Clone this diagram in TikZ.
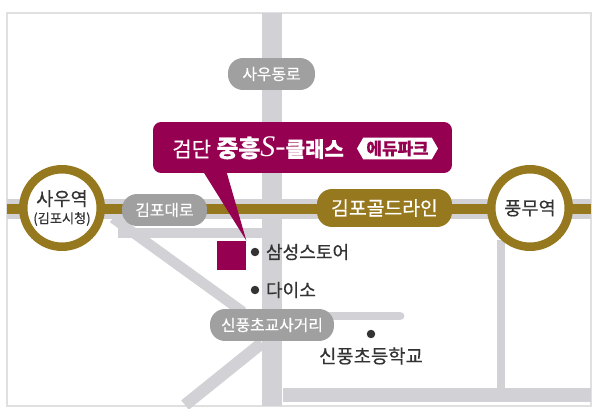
\documentclass[tikz,border=0pt]{standalone}
\usepackage{fontspec}
\setmainfont[FakeBold=0.5]{Noto Sans CJK KR}
\usetikzlibrary{shapes.symbols, positioning, calc}
\definecolor{plum}{HTML}{960051}
\definecolor{gold}{HTML}{96781E}
\definecolor{road}{HTML}{D2D2D6}
\definecolor{badge}{HTML}{A0A0A0}
\definecolor{ink}{HTML}{333333}
\tikzset{
  roadline/.style={road, line width=0.4cm},
  thinroad/.style={road, line width=0.21cm},
  roadbadge/.style={fill=badge, text=white, rounded corners=0.3cm, minimum height=0.64cm, inner sep=0pt, font=\fontsize{9pt}{10pt}\selectfont},
  station/.style={circle, draw=gold, fill=white, line width=0.17cm, minimum size=1.55cm, inner sep=0pt, text=ink, align=center, font=\fontsize{10.6pt}{12pt}\selectfont},
  spot/.style={circle, fill=ink, minimum size=0.17cm, inner sep=0pt},
  place/.style={text=ink, inner sep=0pt, font=\fontsize{10.3pt}{12pt}\selectfont}
}
\begin{document}
\begin{tikzpicture}[x=0.02cm, y=-0.02cm]
\useasboundingbox (0,0) rectangle (600,409);
% Frame
\draw[black!12, line width=0.03cm] (7,13) rectangle (591,406);

% Road ends
\coordinate (westend) at (7,209);
\coordinate (eastend) at (591,209);
\coordinate (northend) at (272,13);
\coordinate (southend) at (272,406);

% Roads
\draw[roadline] (westend) -- (eastend);
\draw[roadline] (northend) -- (southend);
\draw[thinroad] (118,233) -- (272,233);
\draw[thinroad] (113,218) -- (243,312);
\draw[road, line width=0.24cm] (262,343) -- (185,405);
\draw[road, line width=0.28cm] (283,395) -- (591,395);
\draw[road, line width=0.18cm] (501,240) -- (501,395);
\draw[road, line width=0.18cm, line cap=round] (320,316) -- (400,316);

% Gold line
\draw[gold, line width=0.21cm] (westend) -- (eastend);

% Stations
\node[station] (sawoo) at (62,208) {사우역\\[-2pt]{\fontsize{7.5pt}{8pt}\selectfont (김포시청)}};
\node[station] (pungmu) at (530,208) {풍무역};

% Road names
\node[roadbadge, minimum width=1.74cm] (sawoodong) at (271.5,74) {사우동로};
\node[roadbadge, minimum width=1.7cm] (gimpodae) at (164.5,210) {김포대로};
\node[roadbadge, minimum width=2.48cm] (sinpung) at (272,325) {신풍초교사거리};
\node[roadbadge, fill=gold, minimum width=2.7cm, minimum height=0.76cm, font=\fontsize{11pt}{12pt}\selectfont] (goldline) at (384.5,208) {김포골드라인};

% Site and callout
\node[fill=plum, minimum width=0.58cm, minimum height=0.58cm, inner sep=0pt] (site) at (231.5,255.5) {};
\node[fill=plum, rounded corners=0.16cm, minimum width=5.98cm, minimum height=1.02cm, inner sep=0pt] (callout) at (302.5,147.5) {};
\fill[plum] ($(callout.south west)+(51,-1)$) -- ($(callout.south west)+(74,-1)$) -- (site.north east) -- cycle;
\node[text=white, inner sep=0pt, anchor=west, font=\fontsize{12pt}{13pt}\selectfont] (title) at (172,148) {검단\hspace{3pt}{\fontsize{13.6pt}{13pt}\selectfont\textbf{중흥}}{\fontsize{17pt}{13pt}\selectfont\textit{\fontspec{Liberation Serif}S}-}\textbf{클래스}};
\node[signal, signal to=east and west, signal pointer angle=120, fill=white, text=plum, minimum width=1.62cm, minimum height=0.44cm, inner sep=0pt, font=\bfseries\fontsize{9.6pt}{10pt}\selectfont] (edupark) at (397.5,148.5) {에듀파크};

% Places
\node[spot] (samsung) at (255,252) {};
\node[place, right=0.12cm of samsung] (samsungtext) {삼성스토어};
\node[spot] (daiso) at (255,290) {};
\node[place, right=0.12cm of daiso] (daisotext) {다이소};
\node[spot] (school) at (371,334) {};
\node[place, below=0.17cm of school, font=\fontsize{10.7pt}{12pt}\selectfont] (schooltext) {신풍초등학교};
\end{tikzpicture}
\end{document}
